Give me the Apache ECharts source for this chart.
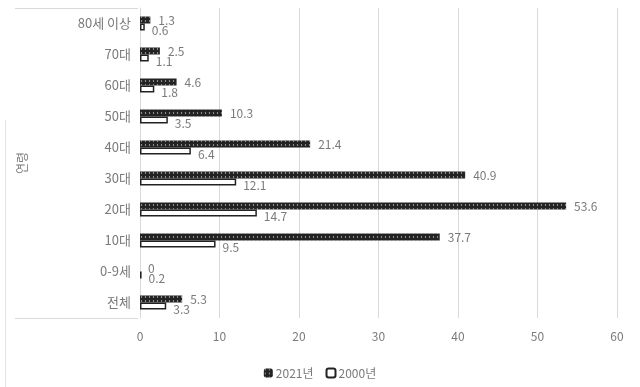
<!DOCTYPE html>
<html>
<head>
<meta charset="utf-8">
<script src="https://cdn.jsdelivr.net/npm/echarts@6/dist/echarts.min.js"></script>
<style>html,body{margin:0;padding:0;background:#fff;}#c{width:640px;height:387px;}</style>
</head>
<body>
<div id="c"></div>
<script>
const categories = ['전체','0-9세','10대','20대','30대','40대','50대','60대','70대','80세 이상'];
const values2021 = [5.3, 0, 37.7, 53.6, 40.9, 21.4, 10.3, 4.6, 2.5, 1.3];
const values2000 = [3.3, 0.2, 9.5, 14.7, 12.1, 6.4, 3.5, 1.8, 1.1, 0.6];
const xTicks = [0, 10, 20, 30, 40, 50, 60];
const seriesNames = ['2021년', '2000년'];
const axisTitle = '연령';

const FONT = '"Noto Sans CJK KR", "Noto Sans", sans-serif';
const GRAY = '#7a7a7a';
const chart = echarts.init(document.getElementById('c'), null, {renderer: 'canvas'});
chart.setOption({
  animation: false,
  backgroundColor: '#fff',
  textStyle: {fontFamily: FONT},
  grid: {left: 140, right: 23, top: 8, bottom: 69, containLabel: false},
  legend: {
    data: seriesNames,
    bottom: 3,
    left: 'center',
    itemWidth: 9, itemHeight: 9, itemGap: 12,
    textStyle: {color: GRAY, fontSize: 12, fontFamily: FONT, padding: [0, 0, 0, -2]}
  },
  xAxis: {
    type: 'value',
    min: xTicks[0], max: xTicks[xTicks.length - 1], interval: 10,
    axisLine: {show: false}, axisTick: {show: false},
    splitLine: {lineStyle: {color: '#d9d9d9', width: 1}},
    axisLabel: {color: GRAY, fontSize: 12, margin: 12, fontFamily: FONT}
  },
  yAxis: {
    type: 'category',
    data: categories,
    name: axisTitle,
    nameLocation: 'middle',
    nameRotate: 90,
    nameGap: 112,
    nameTextStyle: {color: GRAY, fontSize: 12, fontFamily: FONT},
    axisLine: {show: true, lineStyle: {color: '#d9d9d9'}},
    axisTick: {show: false},
    axisLabel: {color: GRAY, fontSize: 13, margin: 9, fontFamily: FONT}
  },
  graphic: [
    {type: 'line', shape: {x1: 15, y1: 8.5, x2: 138, y2: 8.5}, style: {stroke: '#d9d9d9', lineWidth: 1}},
    {type: 'line', shape: {x1: 15, y1: 318.5, x2: 138, y2: 318.5}, style: {stroke: '#d9d9d9', lineWidth: 1}},
    {type: 'line', shape: {x1: 5.5, y1: 120, x2: 5.5, y2: 387}, style: {stroke: '#e3e3e3', lineWidth: 1}}
  ],
  series: [
    {
      name: seriesNames[0], type: 'bar', data: values2021,
      barWidth: 7, barGap: '0%',
      itemStyle: {
        color: '#222',
        decal: {symbol: 'circle', symbolSize: 0.7, dashArrayX: [3, 1], dashArrayY: [2, 2], color: 'rgba(255,255,255,0.75)'}
      },
      label: {show: true, position: 'right', distance: 8, color: GRAY, fontSize: 12, fontFamily: FONT}
    },
    {
      name: seriesNames[1], type: 'bar', data: values2000,
      barWidth: 7, barGap: '0%',
      itemStyle: {color: '#ffffff', borderColor: '#222', borderWidth: 1.5},
      label: {show: true, position: 'right', distance: 7, offset: [0, 3], color: GRAY, fontSize: 12, fontFamily: FONT}
    }
  ]
});
</script>
</body>
</html>
